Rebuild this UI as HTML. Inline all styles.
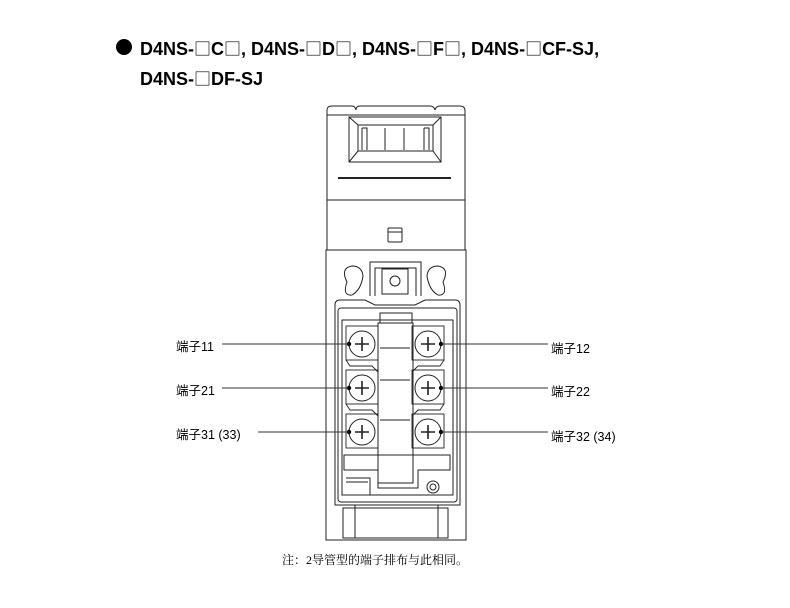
<!DOCTYPE html>
<html><head><meta charset="utf-8"><style>
body{margin:0;background:#fff;width:790px;height:608px;overflow:hidden;position:relative;font-family:"Liberation Sans","Noto Sans CJK SC",sans-serif;}
.t{position:absolute;font-weight:bold;font-size:18px;color:#000;white-space:nowrap}
.b{font-family:"Noto Sans CJK SC",sans-serif;font-weight:normal;font-size:17px}
.l{position:absolute;font-size:12.5px;color:#000;white-space:nowrap}
</style></head><body>
<div style="position:absolute;left:116px;top:39px;width:16px;height:16px;border-radius:50%;background:#000"></div>
<div class="t" style="left:140px;top:35px">D4NS-<span class="b">□</span>C<span class="b">□</span>, D4NS-<span class="b">□</span>D<span class="b">□</span>, D4NS-<span class="b">□</span>F<span class="b">□</span>, D4NS-<span class="b">□</span>CF-SJ,</div>
<div class="t" style="left:140px;top:65px">D4NS-<span class="b">□</span>DF-SJ</div>
<div class="l" style="left:176px;top:336px">端子11</div>
<div class="l" style="left:176px;top:380px">端子21</div>
<div class="l" style="left:176px;top:424px">端子31 (33)</div>
<div class="l" style="left:551px;top:338px">端子12</div>
<div class="l" style="left:551px;top:381px">端子22</div>
<div class="l" style="left:551px;top:426px">端子32 (34)</div>
<div class="l" style="left:282px;top:551px;font-family:'Liberation Serif','Noto Serif CJK SC',serif;font-size:12px">注：2导管型的端子排布与此相同。</div>
<svg width="790" height="608" style="position:absolute;left:0;top:0" fill="none" stroke="#222" stroke-width="1">
<path d="M327 120 V110 Q327 106 332 106 H352 Q355 106 356 110 Q356 106 360 106 H430 Q434 106 435 110 Q436 106 440 106 H460 Q465 106 465 111 V120"/>
<rect x="327" y="115" width="138" height="135"/>
<rect x="349" y="117" width="92" height="45"/>
<rect x="358" y="125" width="75" height="26"/>
<path d="M349 117 L358 125 M441 117 L433 125 M349 162 L358 151 M441 162 L433 151"/>
<path d="M362 128 V150 M385 128 V150 M404 128 V150 M424 128 V150 M362 128 H367 V150 M424 128 H429 V150"/>
<line x1="338" y1="178" x2="451" y2="178" stroke-width="2"/>
<line x1="327" y1="200" x2="465" y2="200"/>
<rect x="388" y="228" width="14" height="14" rx="1"/><line x1="388" y1="232" x2="402" y2="232"/>
<rect x="326" y="250" width="140" height="290"/>
<path d="M347 282 Q340 268 352 266 Q362 266 363 276 Q361 290 352 295 Q342 296 347 282Z"/>
<path d="M443 282 Q450 268 438 266 Q428 266 427 276 Q429 290 438 295 Q448 296 443 282Z"/>
<path d="M370 296 V262 H421 V296"/>
<path d="M375 296 V268 H416 V296"/>
<rect x="382" y="269" width="26" height="25"/><circle cx="395" cy="281" r="5"/>
<path d="M335 305 Q335 300 340 300 H365 L375 305 H415 L425 300 H455 Q460 300 460 305 V505 H335Z"/>
<rect x="338" y="308" width="119" height="194" rx="3"/>
<rect x="342" y="320" width="111" height="175"/>
<rect x="380" y="313" width="32" height="10"/>
<rect x="378" y="323" width="35" height="160"/>
<line x1="380" y1="348" x2="410" y2="348"/><line x1="380" y1="380" x2="410" y2="380"/><line x1="380" y1="420" x2="410" y2="420"/>
<g stroke-width="0.9">
<rect x="346" y="326" width="32" height="34"/><rect x="412" y="326" width="32" height="34"/>
<rect x="346" y="370" width="32" height="34"/><rect x="412" y="370" width="32" height="34"/>
<rect x="346" y="414" width="32" height="34"/><rect x="412" y="414" width="32" height="34"/>
<path d="M346 360 L350 366 H372 L378 372 M444 360 L440 366 H418 L412 372 M346 404 L350 410 H372 L378 416 M444 404 L440 410 H418 L412 416"/>
</g>
<g stroke-width="1">
<circle cx="362" cy="344" r="13"/><circle cx="428" cy="344" r="13"/>
<circle cx="362" cy="388" r="13"/><circle cx="428" cy="388" r="13"/>
<circle cx="362" cy="432" r="13"/><circle cx="428" cy="432" r="13"/>
</g>
<g stroke-width="1.6">
<path d="M355 344 H369 M362 337 V351 M421 344 H435 M428 337 V351"/>
<path d="M355 388 H369 M362 381 V395 M421 388 H435 M428 381 V395"/>
<path d="M355 432 H369 M362 425 V439 M421 432 H435 M428 425 V439"/>
</g>
<g fill="#000" stroke="none">
<circle cx="349" cy="344" r="2.2"/><circle cx="441" cy="344" r="2.2"/>
<circle cx="349" cy="388" r="2.2"/><circle cx="441" cy="388" r="2.2"/>
<circle cx="349" cy="432" r="2.2"/><circle cx="441" cy="432" r="2.2"/>
</g>
<path d="M344 455 H450 V470 H418 V488 H378 V470 H344Z"/>
<path d="M346 478 H370 V495 M346 482 H368"/>
<circle cx="433" cy="487" r="6"/><circle cx="433" cy="487" r="3"/>
<rect x="343" y="508" width="105" height="30"/>
<line x1="355" y1="505" x2="355" y2="538"/><line x1="438" y1="505" x2="438" y2="538"/>
<g stroke="#333" stroke-width="0.9">
<line x1="222" y1="344" x2="349" y2="344"/><line x1="441" y1="344" x2="548" y2="344"/>
<line x1="222" y1="388" x2="349" y2="388"/><line x1="441" y1="388" x2="548" y2="388"/>
<line x1="258" y1="432" x2="349" y2="432"/><line x1="441" y1="432" x2="548" y2="432"/>
</g>
</svg>
</body></html>
